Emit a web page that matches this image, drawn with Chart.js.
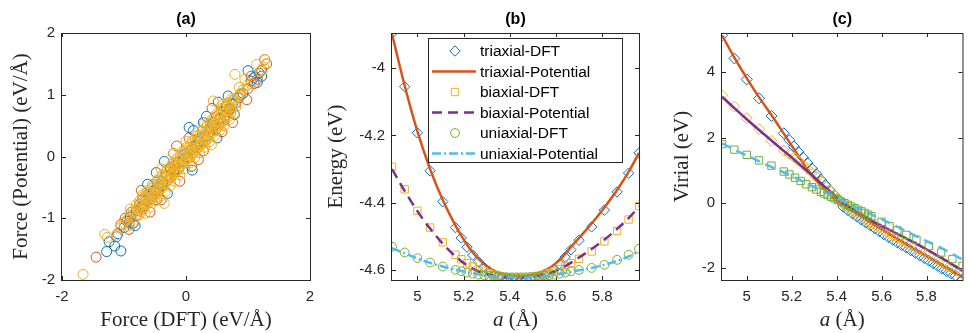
<!DOCTYPE html>
<html>
<head>
<meta charset="utf-8">
<script src="https://cdn.jsdelivr.net/npm/chart.js@4"></script>
<style>
  html, body { margin: 0; padding: 0; background: #fff; overflow: hidden; }
  canvas { position: absolute; left: 0; top: 0; }
</style>
</head>
<body>
<canvas id="panelA" width="969" height="333"></canvas>
<canvas id="panelB" width="969" height="333"></canvas>
<canvas id="panelC" width="969" height="333"></canvas>
<script>
// ---- (a) force parity, three sets of forces (DFT vs potential)
const forceDft1 = [-1.28, -1.05, -1.15, -1.24, -1.10, -1.00, -0.95, -0.90, -0.85, -0.80, -0.72, -0.65, -0.58, -0.48, -0.52, -0.45, -0.38, -0.30, -0.25, -0.18, -0.12, -0.05, 0.02, 0.09, 0.08, 0.15, 0.22, 0.30, 0.33, 0.38, 0.45, 0.05, 0.55, 0.62, 0.70, 0.78, 0.85, 0.92, 1.00, 1.05, 1.10, 1.15, 1.18, 1.22, -0.70, -0.60, -0.40, -0.20, 0.00, 0.20, 0.40, 0.60, 0.65, 0.75,
  -0.62, -0.35, 0.12, 0.28, 0.52, 0.68, -0.82, -0.30, 0.10, 0.50];
const forcePot1 = [-1.54, -1.53, -1.45, -1.38, -1.25, -1.15, -1.05, -0.98, -1.08, -0.88, -0.82, -0.72, -0.64, -0.26, -0.56, -0.50, -0.42, -0.32, -0.20, -0.22, -0.10, -0.08, 0.00, -0.16, 0.10, 0.16, 0.24, 0.32, 0.65, 0.40, 0.50, 0.47, 0.60, 0.66, 0.76, 0.68, 0.95, 1.02, 1.39, 1.22, 1.28, 1.20, 1.35, 1.30, -0.70, -0.70, -0.48, -0.25, 0.05, 0.25, 0.48, 0.72, 0.80, 0.85,
  -0.45, -0.08, 0.42, 0.55, 0.88, 0.98, -1.12, -0.60, -0.22, 0.30];
const forceDft2 = [-1.45, -1.12, -1.05, -0.98, -0.92, -0.88, -0.80, -0.75, -0.68, -0.62, -0.55, -0.47, -0.45, -0.38, -0.32, -0.25, -0.18, -0.12, -0.05, 0.03, 0.10, 0.18, 0.25, 0.32, 0.40, 0.48, 0.55, 0.62, 0.70, 0.80, 0.88, 0.98, 1.00, 1.05, 1.10, 1.15, 1.22, 1.27, 1.30, -0.15, 0.28, -0.10, -0.50, 0.45, 0.65, -0.70, 0.15, -0.30,
  -0.72, -0.40, -0.20, 0.20, 0.42, 0.58, 0.75, -0.92, 0.05, -0.58];
const forcePot2 = [-1.63, -1.30, -1.10, -1.00, -1.08, -0.90, -0.95, -0.78, -0.80, -0.62, -0.68, -0.70, -0.45, -0.46, -0.30, -0.34, -0.14, -0.20, 0.02, -0.02, 0.12, 0.14, 0.30, 0.26, 0.46, 0.44, 0.62, 0.60, 0.78, 0.86, 1.00, 0.92, 1.10, 1.30, 1.18, 1.25, 1.40, 1.57, 1.50, 0.17, 0.09, -0.40, -0.59, 0.55, 0.68, -0.85, 0.20, -0.38,
  -0.55, -0.70, 0.05, -0.05, 0.78, 0.40, 0.55, -1.18, 0.30, -0.90];
const forceDft3 = [-1.66, -1.31, -1.27, -1.12, -1.05, -1.00, -0.95, -0.92, -0.88, -0.85,
  -0.82, -0.78, -0.75, -0.72, -0.70, -0.67, -0.64, -0.62, -0.60, -0.57,
  -0.55, -0.52, -0.50, -0.48, -0.45, -0.43, -0.40, -0.38, -0.35, -0.35,
  -0.33, -0.30, -0.28, -0.25, -0.23, -0.20, -0.18, -0.15, -0.13, -0.10,
  -0.08, -0.05, -0.03, 0.00, 0.02, 0.05, 0.07, 0.10, 0.12, 0.15,
  0.17, 0.20, 0.22, 0.25, 0.27, 0.30, 0.32, 0.35, 0.37, 0.40,
  0.41, 0.42, 0.44, 0.45, 0.47, 0.50, 0.52, 0.55, 0.57, 0.60,
  0.62, 0.65, 0.68, 0.70, 0.72, 0.75, 0.76, 0.78, 0.79, 0.80,
  0.85, 0.88, 0.92, 0.98, 1.05, 1.14, 1.20, 1.25, 1.27,
  -0.90, -0.85, -0.80, -0.76, -0.70, -0.66, -0.62, -0.58, -0.54, -0.50,
  -0.46, -0.42, -0.38, -0.34, -0.30, -0.26, -0.22, -0.18, -0.14, -0.10,
  -0.06, -0.02, 0.02, 0.06, 0.10, 0.14, 0.18, 0.22, 0.26, 0.30,
  0.34, 0.38, 0.42, 0.46, 0.50, 0.54, 0.58, 0.62, 0.66, 0.70,
  0.74, 0.78, 0.60, -0.20, 0.10, 0.00, -0.40, 0.30, 0.86, 0.95,
  -0.75, -0.72, -0.69, -0.66, -0.63, -0.60, -0.57, -0.54, -0.51, -0.48,
  -0.45, -0.42, -0.39, -0.36, -0.33, -0.30, -0.27, -0.24, -0.21, -0.18,
  -0.15, -0.12, -0.09, -0.06, -0.03, 0.00, 0.03, 0.06, 0.09, 0.12,
  0.15, 0.18, 0.21, 0.24, 0.27, 0.30, 0.33, 0.36, 0.39, 0.42,
  0.45, 0.48, 0.51, 0.54, 0.57, 0.60, 0.63, 0.66, 0.69, 0.72];
const forcePot3 = [-1.91, -1.26, -1.31, -1.27, -1.15, -1.08, -1.02, -1.12, -0.95, -0.88,
  -0.98, -0.85, -0.80, -0.90, -0.74, -0.82, -0.68, -0.75, -0.62, -0.70,
  -0.58, -0.66, -0.52, -0.60, -0.48, -0.55, -0.42, -0.50, -0.76, -0.36,
  -0.44, -0.30, -0.38, -0.24, -0.32, -0.18, -0.27, -0.12, -0.22, -0.06,
  -0.15, -0.02, -0.10, 0.03, -0.05, 0.08, 0.00, 0.14, 0.05, 0.20,
  0.10, 0.25, 0.16, 0.31, 0.21, 0.36, 0.27, 0.42, 0.32, 0.47,
  0.19, 0.37, 0.90, 0.53, 0.42, 0.58, 0.48, 0.64, 0.53, 0.70,
  0.58, 0.75, 0.64, 0.80, 0.70, 0.88, 0.92, 0.92, 1.33, 0.80,
  0.98, 1.02, 1.08, 1.15, 1.18, 1.49, 1.38, 1.45, 1.57,
  -0.85, -1.05, -0.78, -0.95, -0.62, -0.92, -0.55, -0.82, -0.45, -0.72,
  -0.38, -0.66, -0.30, -0.58, -0.20, -0.48, -0.12, -0.40, -0.02, -0.30,
  0.08, -0.20, 0.16, -0.10, 0.25, -0.02, 0.34, 0.06, 0.42, 0.15,
  0.52, 0.24, 0.60, 0.33, 0.70, 0.42, 0.78, 0.50, 0.86, 0.60,
  0.94, 0.70, 0.85, 0.05, -0.15, 0.25, -0.20, 0.55, 1.12, 1.25,
  -0.72, -0.84, -0.65, -0.78, -0.58, -0.71, -0.52, -0.64, -0.45, -0.58,
  -0.39, -0.51, -0.32, -0.45, -0.25, -0.38, -0.19, -0.31, -0.12, -0.25,
  -0.06, -0.18, 0.01, -0.12, 0.08, -0.05, 0.14, 0.02, 0.21, 0.08,
  0.28, 0.15, 0.34, 0.21, 0.41, 0.28, 0.47, 0.35, 0.54, 0.41,
  0.61, 0.48, 0.67, 0.54, 0.74, 0.61, 0.80, 0.68, 0.87, 0.74];
const forceTicks = [-2, 0, 2];
const forcePotTicks = [-2, -1, 0, 1, 2];

// ---- (b) energy vs lattice constant
const latticeB = [4.89, 4.945, 5.0, 5.055, 5.11, 5.165, 5.19, 5.215, 5.24, 5.265,
  5.29, 5.31, 5.33, 5.35, 5.37, 5.39, 5.41, 5.43, 5.45, 5.47,
  5.49, 5.51, 5.53, 5.55, 5.57, 5.59, 5.615, 5.64, 5.665, 5.70,
  5.755, 5.81, 5.865, 5.915, 5.96];
const energyTriDft = [-3.896, -4.055, -4.192, -4.305, -4.397, -4.474, -4.505, -4.532, -4.556, -4.576,
  -4.593, -4.604, -4.613, -4.619, -4.624, -4.627, -4.629, -4.630, -4.630, -4.629,
  -4.627, -4.624, -4.620, -4.614, -4.607, -4.598, -4.582, -4.562, -4.540, -4.512,
  -4.472, -4.422, -4.368, -4.312, -4.252];
const energyTriPot = [-3.898, -4.052, -4.188, -4.300, -4.392, -4.468, -4.498, -4.525, -4.548, -4.567,
  -4.583, -4.594, -4.602, -4.608, -4.612, -4.615, -4.617, -4.618, -4.618, -4.617,
  -4.615, -4.612, -4.608, -4.602, -4.595, -4.586, -4.571, -4.553, -4.532, -4.505,
  -4.462, -4.414, -4.362, -4.308, -4.252];
const energyBiDft = [-4.293, -4.360, -4.424, -4.474, -4.518, -4.555, -4.568, -4.580, -4.590, -4.598,
  -4.605, -4.610, -4.614, -4.617, -4.620, -4.622, -4.623, -4.623, -4.623, -4.623,
  -4.622, -4.620, -4.617, -4.614, -4.610, -4.605, -4.598, -4.590, -4.580, -4.567,
  -4.545, -4.515, -4.484, -4.450, -4.410];
const energyBiPot = [-4.300, -4.365, -4.425, -4.477, -4.522, -4.560, -4.574, -4.586, -4.596, -4.604,
  -4.610, -4.614, -4.617, -4.620, -4.622, -4.623, -4.624, -4.624, -4.624, -4.623,
  -4.622, -4.620, -4.617, -4.614, -4.610, -4.605, -4.598, -4.589, -4.579, -4.563,
  -4.538, -4.510, -4.478, -4.446, -4.412];
const energyUniDft = [-4.531, -4.548, -4.565, -4.578, -4.590, -4.600, -4.604, -4.608, -4.611, -4.614,
  -4.616, -4.618, -4.619, -4.620, -4.621, -4.622, -4.622, -4.622, -4.622, -4.622,
  -4.621, -4.620, -4.619, -4.618, -4.616, -4.614, -4.611, -4.608, -4.604, -4.600,
  -4.594, -4.585, -4.570, -4.555, -4.537];
const energyUniPot = [-4.535, -4.551, -4.566, -4.579, -4.590, -4.599, -4.603, -4.607, -4.610, -4.613,
  -4.615, -4.617, -4.619, -4.620, -4.621, -4.622, -4.622, -4.623, -4.623, -4.623,
  -4.622, -4.621, -4.620, -4.619, -4.617, -4.615, -4.612, -4.609, -4.606, -4.601,
  -4.594, -4.585, -4.573, -4.560, -4.545];
const latticeTicks = [5, 5.2, 5.4, 5.6, 5.8];
const energyTicks = [-4.6, -4.4, -4.2, -4];
const legendLabels = ['triaxial-DFT', 'triaxial-Potential', 'biaxial-DFT', 'biaxial-Potential', 'uniaxial-DFT', 'uniaxial-Potential'];

// ---- (c) virial vs lattice constant
const latticeC = [4.89, 4.945, 5.0, 5.055, 5.11, 5.165, 5.19, 5.21, 5.23, 5.25,
  5.27, 5.29, 5.31, 5.33, 5.35, 5.37, 5.39, 5.41, 5.43, 5.45,
  5.47, 5.49, 5.51, 5.53, 5.55, 5.57, 5.59, 5.61, 5.63, 5.65,
  5.67, 5.69, 5.71, 5.73, 5.75, 5.77, 5.79, 5.81, 5.83, 5.85,
  5.87, 5.89, 5.91, 5.93, 5.96];
const virialTriDft = [5.13, 4.42, 3.78, 3.20, 2.66, 2.13, 1.92, 1.73, 1.56, 1.39,
  1.22, 1.05, 0.88, 0.71, 0.55, 0.39, 0.24, 0.09, -0.12, -0.22,
  -0.32, -0.42, -0.51, -0.60, -0.69, -0.78, -0.87, -0.96, -1.05, -1.13,
  -1.21, -1.29, -1.37, -1.45, -1.53, -1.61, -1.69, -1.77, -1.85, -1.93,
  -2.01, -2.09, -2.16, -2.23, -2.34];
const virialTriPot = [5.13, 4.45, 3.82, 3.23, 2.69, 2.12, 1.86, 1.65, 1.44, 1.23,
  1.03, 0.85, 0.68, 0.52, 0.38, 0.25, 0.13, 0.02, -0.07, -0.16,
  -0.25, -0.34, -0.42, -0.51, -0.60, -0.68, -0.77, -0.85, -0.94, -1.02,
  -1.10, -1.18, -1.27, -1.35, -1.44, -1.52, -1.60, -1.68, -1.76, -1.84,
  -1.92, -2.00, -2.08, -2.16, -2.28];
const virialBiDft = [3.30, 2.95, 2.59, 2.26, 1.90, 1.60, 1.50, 1.40, 1.29, 1.17,
  1.05, 0.92, 0.79, 0.65, 0.51, 0.37, 0.23, 0.09, -0.04, -0.14,
  -0.24, -0.34, -0.43, -0.52, -0.61, -0.69, -0.77, -0.85, -0.93, -1.00,
  -1.07, -1.14, -1.21, -1.28, -1.35, -1.43, -1.50, -1.58, -1.66, -1.74,
  -1.82, -1.90, -1.98, -2.06, -2.18];
const virialBiPot = [3.25, 2.90, 2.56, 2.23, 1.91, 1.59, 1.45, 1.33, 1.21, 1.09,
  0.97, 0.85, 0.73, 0.60, 0.48, 0.36, 0.24, 0.11, -0.01, -0.10,
  -0.19, -0.28, -0.36, -0.44, -0.52, -0.60, -0.67, -0.74, -0.81, -0.88,
  -0.95, -1.02, -1.09, -1.16, -1.23, -1.31, -1.38, -1.46, -1.54, -1.62,
  -1.70, -1.78, -1.87, -1.95, -2.08];
const latticeCUni = [4.89, 4.945, 5.0, 5.055, 5.11, 5.165, 5.19, 5.215, 5.24, 5.265,
  5.29, 5.31, 5.33, 5.345, 5.36, 5.375, 5.39, 5.405, 5.42, 5.435,
  5.45, 5.465, 5.48, 5.495, 5.51, 5.525, 5.54, 5.555, 5.60, 5.635,
  5.67, 5.71, 5.755, 5.81, 5.865, 5.915, 5.96];
const virialUniDft = [1.80, 1.63, 1.47, 1.30, 1.14, 0.96, 0.87, 0.77, 0.67, 0.57,
  0.48, 0.41, 0.34, 0.29, 0.24, 0.19, 0.14, 0.09, 0.04, -0.01,
  -0.06, -0.11, -0.16, -0.21, -0.26, -0.31, -0.36, -0.41, -0.58, -0.71,
  -0.84, -0.98, -1.13, -1.32, -1.52, -1.72, -1.93];
const virialUniPot = [1.82, 1.63, 1.45, 1.27, 1.10, 0.93, 0.85, 0.77, 0.69, 0.60,
  0.52, 0.45, 0.38, 0.33, 0.28, 0.23, 0.18, 0.13, 0.08, 0.03,
  -0.02, -0.07, -0.12, -0.17, -0.22, -0.27, -0.31, -0.36, -0.50, -0.61,
  -0.73, -0.87, -1.02, -1.20, -1.38, -1.56, -1.74];
const virialTicks = [-2, 0, 2, 4];

// matlab default colours
const BLUE = '#0072BD', ORANGE = '#D95319', YELLOW = '#EDB120',
      PURPLE = '#7E2F8E', GREEN = '#77AC30', CYAN = '#4DBEEE';
const AXIS_COLOR = '#262626';
const SANS = '"Liberation Sans", Arial, sans-serif';
const SERIF = '"Liberation Serif", "Times New Roman", serif';

function pts(xs, ys) {
  return xs.map((x, i) => ({ x: x, y: ys[i] }));
}

function markers(label, xs, ys, style, color, radius, order) {
  return {
    label, data: pts(xs, ys), showLine: false, order,
    pointStyle: style, pointRadius: radius, pointBorderWidth: 1,
    pointBorderColor: color, pointBackgroundColor: 'rgba(0,0,0,0)',
    borderColor: color, backgroundColor: 'rgba(0,0,0,0)'
  };
}

function curve(label, xs, ys, color, dash, order) {
  return {
    label, data: pts(xs, ys), showLine: true, order,
    pointRadius: 0, borderColor: color, borderWidth: 2.5, borderDash: dash,
    cubicInterpolationMode: 'monotone', fill: false
  };
}

function axes(xMin, xMax, xTicks, yMin, yMax, yTicks) {
  const tickFont = { family: SANS, size: 15 };
  return {
    x: {
      type: 'linear', min: xMin, max: xMax,
      afterBuildTicks: s => { s.ticks = xTicks.map(v => ({ value: v })); },
      afterFit: s => { s.height = 53; },
      grid: { display: false, drawTicks: false }, border: { display: false },
      ticks: { color: AXIS_COLOR, font: tickFont, padding: 8, maxRotation: 0, autoSkip: false, callback: v => String(v) }
    },
    y: {
      type: 'linear', min: yMin, max: yMax,
      afterBuildTicks: s => { s.ticks = yTicks.map(v => ({ value: v })); },
      afterFit: s => { s.width = 62; },
      grid: { display: false, drawTicks: false }, border: { display: false },
      ticks: { color: AXIS_COLOR, font: tickFont, padding: 7, autoSkip: false, callback: v => String(v) }
    }
  };
}

// box with inward ticks on all four sides
const framePlugin = {
  id: 'frame',
  beforeDatasetsDraw(chart) {
    const { ctx, chartArea: a, scales: { x, y } } = chart;
    ctx.save();
    ctx.strokeStyle = AXIS_COLOR;
    ctx.lineWidth = 1;
    ctx.strokeRect(a.left - 0.5, a.top + 0.5, a.right - a.left + 1, a.bottom - a.top);
    ctx.beginPath();
    x.ticks.forEach(t => {
      const px = Math.round(x.getPixelForValue(t.value)) + 0.5;
      ctx.moveTo(px, a.bottom); ctx.lineTo(px, a.bottom - 4);
      ctx.moveTo(px, a.top); ctx.lineTo(px, a.top + 4);
    });
    y.ticks.forEach(t => {
      const py = Math.round(y.getPixelForValue(t.value)) + 0.5;
      ctx.moveTo(a.left, py); ctx.lineTo(a.left + 4, py);
      ctx.moveTo(a.right, py); ctx.lineTo(a.right - 4, py);
    });
    ctx.stroke();
    ctx.restore();
  }
};

// panel title + latex-ish axis titles
const textPlugin = {
  id: 'panelText',
  afterDraw(chart, args, opts) {
    const { ctx, chartArea: a } = chart;
    const cx = (a.left + a.right) / 2;
    ctx.save();
    ctx.fillStyle = '#000';
    ctx.font = 'bold 16px ' + SANS;
    ctx.textAlign = 'center';
    ctx.textBaseline = 'middle';
    ctx.fillText(opts.title, cx, 20);

    ctx.fillStyle = AXIS_COLOR;
    const fontFor = s => (s.italic ? 'italic ' : '') + '21px ' + SERIF;
    let total = 0;
    const segs = opts.xTitle.map(s => {
      ctx.font = fontFor(s);
      const w = ctx.measureText(s.text).width;
      total += w;
      return { text: s.text, italic: s.italic, w };
    });
    let xx = cx - total / 2;
    ctx.textAlign = 'left';
    segs.forEach(s => { ctx.font = fontFor(s); ctx.fillText(s.text, xx, 320); xx += s.w; });

    ctx.translate(opts.yTitleX, (a.top + a.bottom) / 2);
    ctx.rotate(-Math.PI / 2);
    ctx.textAlign = 'center';
    ctx.font = '21px ' + SERIF;
    ctx.fillText(opts.yTitle, 0, 0);
    ctx.restore();
  }
};

// boxed legend inside the axes, MATLAB style
const legendBoxPlugin = {
  id: 'legendBox',
  afterDatasetsDraw(chart, args, opts) {
    if (!opts.show) return;
    const { ctx, chartArea: a } = chart;
    const left = a.left + 36, top = a.top + 5, right = a.right - 17, rowH = 20.5;
    const sets = chart.data.datasets;
    const bottom = top + rowH * sets.length + 1;
    ctx.save();
    ctx.fillStyle = '#fff';
    ctx.fillRect(left, top, right - left, bottom - top);
    ctx.strokeStyle = AXIS_COLOR;
    ctx.lineWidth = 1;
    ctx.strokeRect(left + 0.5, top + 0.5, right - left, bottom - top);
    ctx.font = '15.5px ' + SANS;
    ctx.textBaseline = 'middle';
    ctx.textAlign = 'left';
    sets.forEach((ds, i) => {
      const yy = top + 13 + i * rowH;
      if (ds.showLine) {
        ctx.strokeStyle = ds.borderColor;
        ctx.lineWidth = ds.borderWidth;
        ctx.setLineDash(ds.borderDash || []);
        ctx.beginPath();
        ctx.moveTo(left + 4, yy);
        ctx.lineTo(left + 48, yy);
        ctx.stroke();
        ctx.setLineDash([]);
      } else {
        ctx.strokeStyle = ds.pointBorderColor;
        ctx.fillStyle = 'rgba(0,0,0,0)';
        ctx.lineWidth = 1;
        Chart.helpers.drawPoint(ctx, { pointStyle: ds.pointStyle, radius: ds.pointRadius, rotation: 0, borderWidth: 1 }, left + 27, yy);
      }
      ctx.fillStyle = '#000';
      ctx.fillText(legendLabels[i], left + 52, yy + 1);
    });
    ctx.restore();
  }
};

function makeChart(id, datasets, scales, pad, text, legend) {
  return new Chart(document.getElementById(id), {
    type: 'scatter',
    data: { datasets },
    options: {
      responsive: false, animation: false, events: [],
      layout: { padding: { left: pad[0], right: pad[1], top: 33, bottom: 0 } },
      scales,
      plugins: {
        legend: { display: false }, tooltip: { enabled: false },
        panelText: text, legendBox: { show: legend }
      }
    },
    plugins: [framePlugin, textPlugin, legendBoxPlugin]
  });
}

makeChart('panelA', [
  markers('set1', forceDft1, forcePot1, 'circle', BLUE, 5, 2),
  markers('set2', forceDft2, forcePot2, 'circle', ORANGE, 5, 1),
  markers('set3', forceDft3, forcePot3, 'circle', YELLOW, 5, 0)
], axes(-2, 2, forceTicks, -2, 2, forcePotTicks), [0, 659],
  { title: '(a)', xTitle: [{ text: 'Force (DFT) (eV/Å)' }], yTitle: 'Force (Potential) (eV/Å)', yTitleX: 21 }, false);

makeChart('panelB', [
  markers(legendLabels[0], latticeB, energyTriDft, 'rectRot', BLUE, 5.2, 5),
  curve(legendLabels[1], latticeB, energyTriPot, ORANGE, [], 4),
  markers(legendLabels[2], latticeB, energyBiDft, 'rect', YELLOW, 5.2, 3),
  curve(legendLabels[3], latticeB, energyBiPot, PURPLE, [10, 6], 2),
  markers(legendLabels[4], latticeB, energyUniDft, 'circle', GREEN, 4.4, 1),
  curve(legendLabels[5], latticeB, energyUniPot, CYAN, [9, 3, 2, 3], 0)
], axes(4.89, 5.96, latticeTicks, -4.63, -3.895, energyTicks), [330, 330],
  { title: '(b)', xTitle: [{ text: 'a', italic: true }, { text: ' (Å)' }], yTitle: 'Energy (eV)', yTitleX: 336 }, true);

makeChart('panelC', [
  markers('triaxial-DFT', latticeC, virialTriDft, 'rectRot', BLUE, 5.5, 5),
  curve('triaxial-Potential', latticeC, virialTriPot, ORANGE, [], 4),
  markers('biaxial-DFT', latticeC, virialBiDft, 'rectRot', YELLOW, 5.5, 3),
  curve('biaxial-Potential', latticeC, virialBiPot, PURPLE, [], 2),
  markers('uniaxial-DFT', latticeCUni, virialUniDft, 'rect', GREEN, 5.2, 1),
  curve('uniaxial-Potential', latticeCUni, virialUniPot, CYAN, [10, 6], 0)
], axes(4.89, 5.96, latticeTicks, -2.36, 5.2, virialTicks), [660, 1],
  { title: '(c)', xTitle: [{ text: 'a', italic: true }, { text: ' (Å)' }], yTitle: 'Virial (eV)', yTitleX: 682 }, false);
</script>
</body>
</html>
